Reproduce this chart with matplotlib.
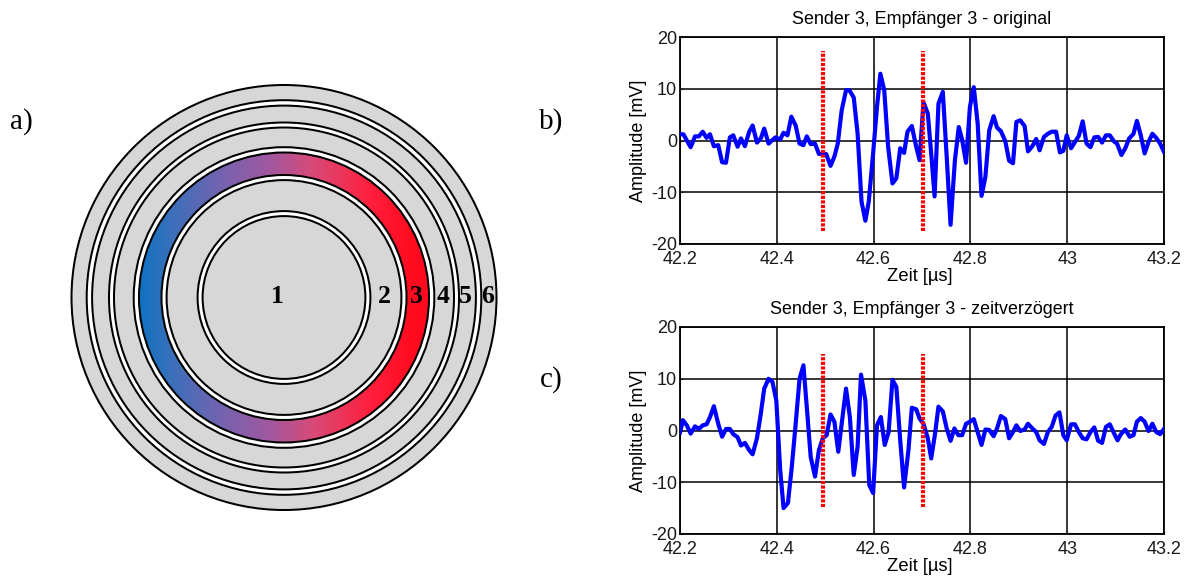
import numpy as np
import matplotlib
matplotlib.use("Agg")
import matplotlib.pyplot as plt
from matplotlib.colors import LinearSegmentedColormap
from matplotlib.patches import Circle

W, H = 1192, 579
plt.rcParams['font.family'] = ['Liberation Sans', 'DejaVu Sans']
plt.rcParams['axes.unicode_minus'] = False

# signal b) original
t_b = [42.200,42.207,42.222,42.231,42.239,42.247,42.255,42.262,42.270,42.279,42.287,42.295,42.303,42.310,42.319,42.326,
       42.334,42.343,42.350,42.359,42.367,42.374,42.383,42.397,42.407,42.414,42.422,42.430,42.439,42.447,42.455,42.462,
       42.470,42.479,42.487,42.502,42.511,42.519,42.526,42.534,42.543,42.550,42.559,42.567,42.575,42.583,42.590,42.599,
       42.607,42.614,42.622,42.630,42.639,42.647,42.655,42.663,42.670,42.679,42.688,42.695,42.703,42.712,42.719,42.726,
       42.734,42.743,42.751,42.759,42.768,42.776,42.783,42.791,42.799,42.807,42.815,42.823,42.831,42.839,42.848,42.855,
       42.863,42.872,42.880,42.888,42.895,42.903,42.912,42.919,42.928,42.936,42.943,42.952,42.960,42.968,42.977,42.985,
       42.992,42.999,43.008,43.016,43.024,43.032,43.040,43.048,43.056,43.064,43.072,43.080,43.088,43.097,43.103,43.112,
       43.120,43.128,43.137,43.144,43.152,43.160,43.168,43.176,43.184,43.192,43.200]
v_b = [1.2,1.2,-1.3,0.8,0.8,1.7,0.5,1.2,-1.1,-0.9,-4.2,-4.3,0.6,1.0,-1.2,0.4,
       -1.1,1.7,2.9,-0.4,0.4,2.3,-0.6,0.6,0.2,1.5,1.0,4.6,2.9,-0.6,-0.9,0.8,
       -0.7,-0.6,-2.6,-2.6,-4.9,-3.1,-0.6,5.8,9.7,9.7,8.3,1.3,-11.8,-15.5,-11.8,-2.5,
       6.5,12.9,9.7,-1.2,-8.3,-7.3,-1.5,-2.4,1.7,2.8,-1.2,-3.8,7.4,5.2,-2.5,-10.8,
       7.1,9.4,-3.1,-16.3,-3.8,2.6,0.1,-4.3,6.5,10.3,3.3,-10.7,-7.0,2.0,4.7,2.5,
       1.8,-0.1,-3.9,-4.4,3.6,3.9,2.8,-2.1,-1.1,0.3,-1.9,0.7,1.3,1.7,1.7,-2.3,
       -2.0,1.0,-1.5,-0.3,0.9,3.7,-0.6,-1.3,0.6,0.7,-0.4,1.0,1.0,-0.2,-0.6,-2.8,
       -1.5,0.4,1.3,3.8,1.0,-2.5,-0.3,1.3,0.5,-0.6,-2.2]

# signal c) zeitverzoegert
t_c = [42.200,42.206,42.214,42.222,42.231,42.239,42.247,42.255,42.262,42.270,42.279,42.287,42.295,42.303,42.310,42.319,
       42.326,42.334,42.343,42.350,42.359,42.367,42.374,42.383,42.391,42.399,42.407,42.414,42.423,42.431,42.439,42.447,
       42.455,42.463,42.470,42.479,42.487,42.495,42.503,42.511,42.519,42.527,42.535,42.543,42.551,42.559,42.567,42.574,
       42.583,42.591,42.599,42.607,42.615,42.623,42.631,42.639,42.647,42.655,42.663,42.672,42.679,42.688,42.695,42.703,
       42.712,42.719,42.727,42.734,42.743,42.751,42.759,42.767,42.775,42.783,42.791,42.799,42.807,42.815,42.823,42.831,
       42.839,42.848,42.855,42.863,42.872,42.880,42.888,42.895,42.903,42.912,42.919,42.928,42.936,42.943,42.952,42.960,
       42.968,42.976,42.984,42.992,42.999,43.008,43.016,43.024,43.032,43.040,43.048,43.056,43.064,43.072,43.080,43.088,
       43.097,43.104,43.111,43.120,43.129,43.137,43.144,43.152,43.160,43.168,43.176,43.184,43.192,43.200]
v_c = [-0.4,2.0,1.0,-0.6,0.8,0.3,1.0,1.2,2.6,4.7,1.3,-1.2,0.3,0.3,-0.7,-1.3,
       -2.9,-2.4,-3.8,-4.6,-1.5,3.3,8.1,10.0,9.4,5.8,-7.6,-15.0,-14.0,-7.0,1.3,10.0,
       12.6,3.3,-5.1,-8.9,-3.8,-1.5,-0.9,3.1,1.7,-4.1,2.0,8.1,2.6,-8.6,-3.1,10.8,
       5.8,-10.5,-12.1,1.0,2.6,-2.8,-0.3,9.8,8.4,-1.9,-11.0,-3.8,4.4,4.1,2.3,1.3,
       -1.5,-5.4,-0.6,4.6,3.7,0.4,-2.0,0.4,-0.9,-0.9,1.3,1.7,2.2,-0.3,-2.8,0.2,
       0.1,-1.1,0.4,2.8,2.2,-1.5,-0.3,1.0,-0.1,0.2,1.3,0.4,-0.3,-1.9,-2.6,-0.3,
       0.7,2.9,3.5,-0.9,-1.9,1.2,1.2,-0.3,-1.5,-1.7,-0.3,0.6,-2.0,-2.4,0.7,1.2,
       -0.6,-1.9,-0.7,0.2,-1.2,-0.9,1.7,2.4,1.7,-0.1,1.3,-0.3,-0.7,0.3]

x_ticks = [42.2, 42.4, 42.6, 42.8, 43, 43.2]
x_ticklabels = ['42.2', '42.4', '42.6', '42.8', '43', '43.2']
y_ticks = [-20, -10, 0, 10, 20]

window = [42.495, 42.703]
window_b = [-17.4, 17.2]
window_c = [-14.8, 14.8]

# ring radii in the schematic, outside to inside: (radius, fill)
GREY = '#d7d7d7'
discs = [(212.5, GREY), (197.3, 'white'), (191.9, GREY), (175, 'white'), (170, GREY),
         (150.3, 'white'), (145, None), (122.5, 'white'), (117.4, GREY), (86.4, 'white'), (81.4, GREY)]
ring_numbers = ['1', '2', '3', '4', '5', '6']
ring_number_x = [-7, 100, 132, 159, 181, 204]
grad_colors = ['#0f72c2', '#3a70ba', '#7a62ae', '#a0589f', '#d84a78', '#ff1f3c', '#ff0a1e', '#ff0a1e']
grad_stops = [0.0, 0.11, 0.3, 0.45, 0.6, 0.8, 0.95, 1.0]


def panel(rect, t, v, win, title):
    ax = fig.add_axes([rect[0]/W, 1-rect[3]/H, (rect[2]-rect[0])/W, (rect[3]-rect[1])/H])
    ax.plot(t, v, color='#0000ff', lw=3.0, solid_joinstyle='round', zorder=3)
    for x in window:
        ax.plot([x, x], win, color='#ff0000', lw=3.0, ls=(0, (0.75, 0.35)), zorder=4)
    ax.set_xlim(42.2, 43.2)
    ax.set_ylim(-20, 20)
    ax.set_xticks(x_ticks)
    ax.set_xticklabels(x_ticklabels)
    ax.set_yticks(y_ticks)
    ax.grid(True, color='black', lw=1.1)
    ax.set_axisbelow(True)
    ax.tick_params(direction='in', length=2, width=0.8, labelsize=13, colors='#1a1a1a')
    ax.tick_params(axis='x', pad=5)
    ax.tick_params(axis='y', pad=2)
    for s in ax.spines.values():
        s.set_linewidth(1.3)
    ax.set_xlabel('Zeit [µs]', fontsize=13.2)
    ax.set_ylabel('Amplitude [mV]', fontsize=13)
    ax.xaxis.set_label_coords(0.496, -0.118)
    ax.yaxis.set_label_coords(-0.068, 0.5)
    ax.set_title(title, fontsize=12.9, pad=9.4)
    return ax


fig = plt.figure(figsize=(W/100, H/100), dpi=100)

# schematic
cx, cy, half = 284, 297.5, 220
sch = fig.add_axes([(cx-half)/W, 1-(cy+half)/H, 2*half/W, 2*half/H])
sch.axis('off')
for i, (r, fill) in enumerate(discs):
    if fill is None:
        cmap = LinearSegmentedColormap.from_list('ring', list(zip(grad_stops, grad_colors)))
        im = sch.imshow(np.linspace(0, 1, 512).reshape(1, -1), cmap=cmap, aspect='auto',
                        extent=[-r, r, -r, r], zorder=i+1)
        im.set_clip_path(Circle((0, 0), r, transform=sch.transData))
        sch.add_patch(Circle((0, 0), r, fc='none', ec='black', lw=1.45, zorder=i+1))
    else:
        sch.add_patch(Circle((0, 0), r, fc=fill, ec='black', lw=1.45, zorder=i+1))
sch.set_xlim(-half, half)
sch.set_ylim(-half, half)
for n, x in zip(ring_numbers, ring_number_x):
    sch.text(x, 1, n, family=['Liberation Serif'], weight='bold', fontsize=18.5, ha='center', va='center', zorder=20)

panel((680, 37, 1164, 244), t_b, v_b, window_b, 'Sender 3, Empfänger 3 - original')
panel((680, 327, 1164, 534), t_c, v_c, window_c, 'Sender 3, Empfänger 3 - zeitverzögert')

for s, x, y in [('a)', 21, 122), ('b)', 551, 122), ('c)', 551, 380)]:
    fig.text(x/W, 1-y/H, s, family=['Liberation Serif'], fontsize=21, ha='center', va='center')

fig.savefig('out.png', dpi=100)
